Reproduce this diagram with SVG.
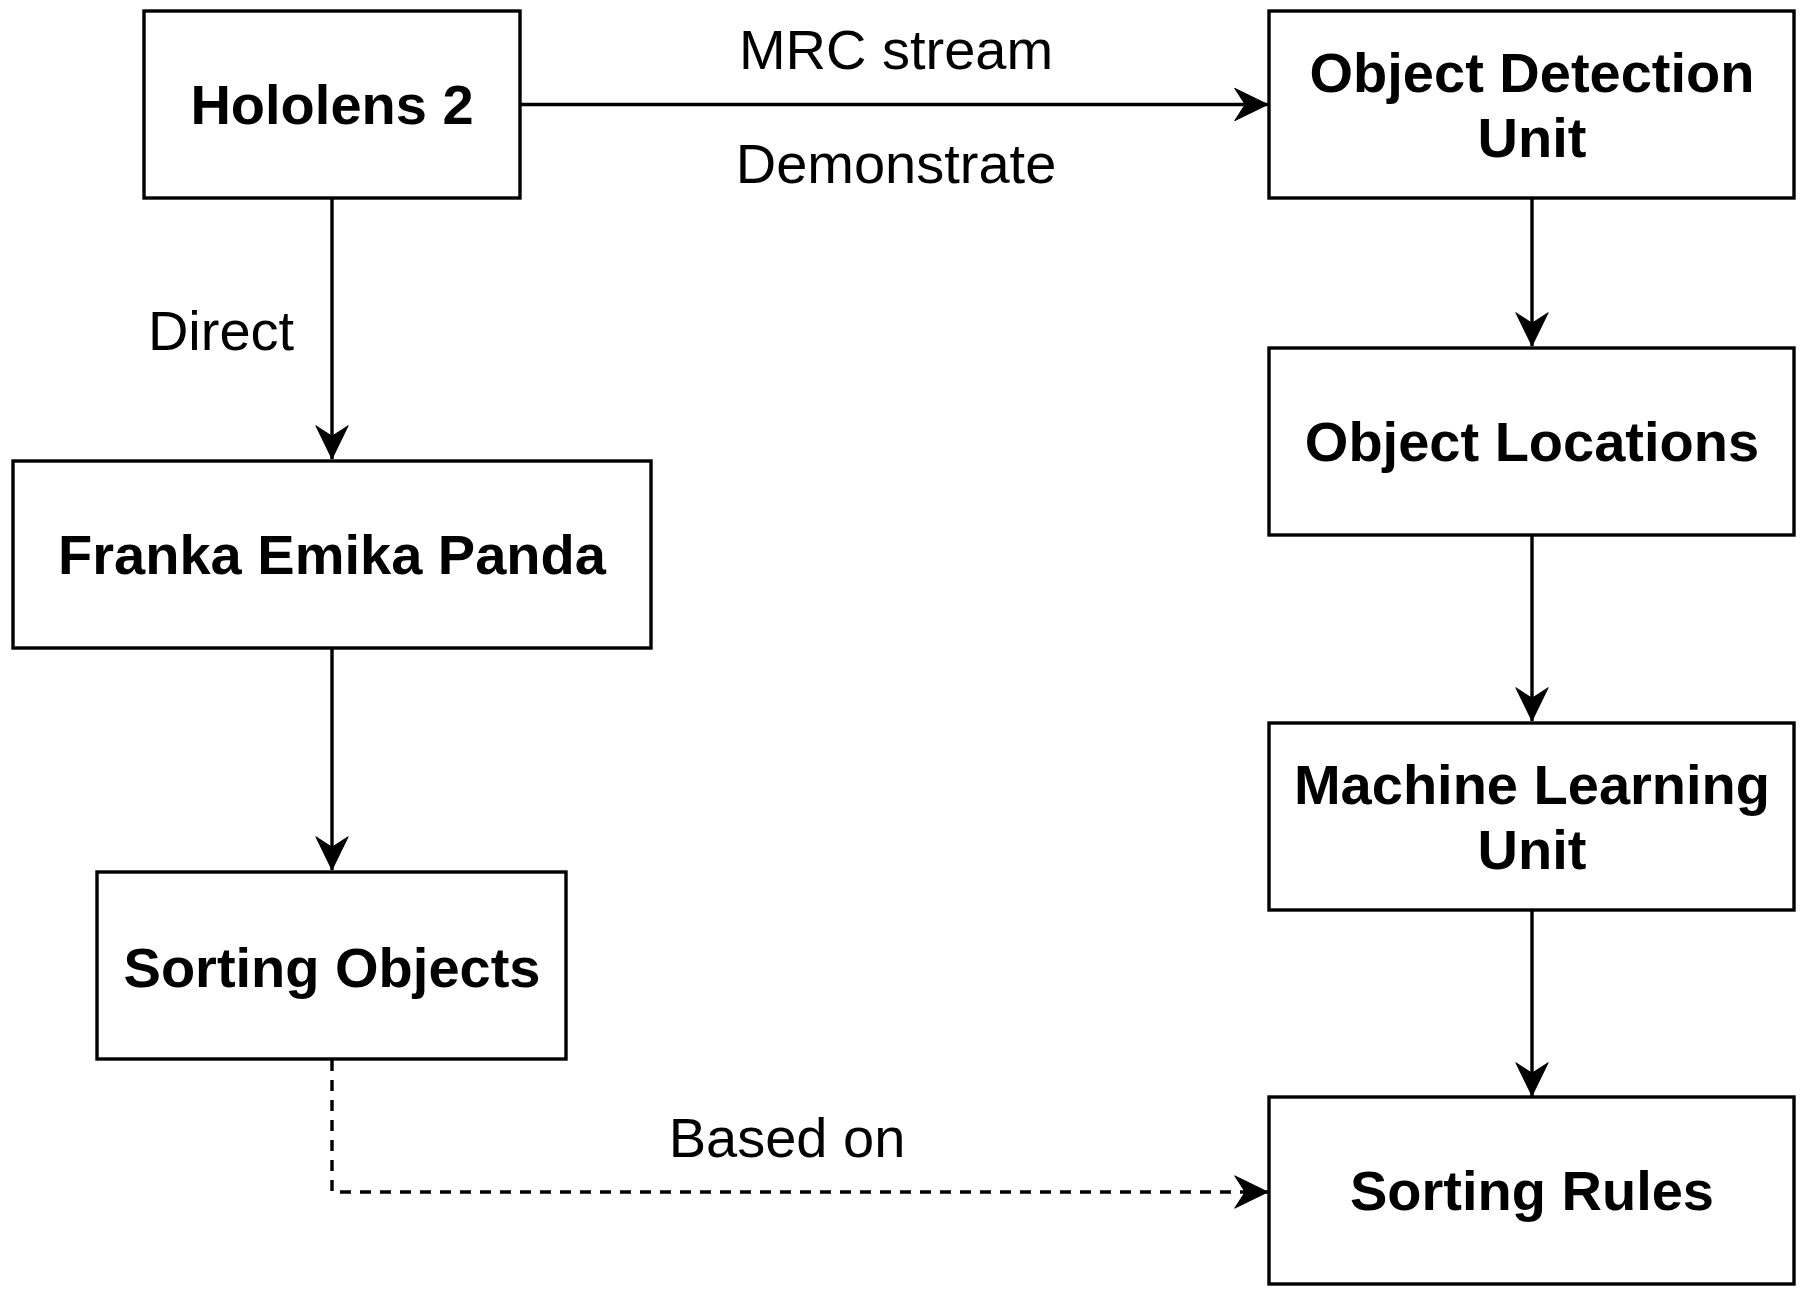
<svg xmlns="http://www.w3.org/2000/svg" width="1801" height="1295" viewBox="0 0 1801 1295">
<style>
.box{fill:#fff;stroke:#000;stroke-width:3.4}
.t{font-family:"Liberation Sans",Arial,sans-serif;font-size:56px;font-weight:bold;text-anchor:middle;fill:#000}
.l{font-family:"Liberation Sans",Arial,sans-serif;font-size:56px;text-anchor:middle;fill:#000}
.e{fill:none;stroke:#000;stroke-width:3.4}
</style>
<defs>
<marker id="a" markerUnits="userSpaceOnUse" markerWidth="40" markerHeight="40" viewBox="-40 -20 42 40" refX="0" refY="0" orient="auto">
<path d="M0,0 L-35,-17 L-24,0 L-35,17 Z" fill="#000" stroke="#000" stroke-width="1"/>
</marker>
</defs>
<rect width="1801" height="1295" fill="#fff"/>
<g id="connectors">
<path class="e" d="M520,104.5 L1268,104.5" marker-end="url(#a)"/>
<path class="e" d="M332,198 L332,459" marker-end="url(#a)"/>
<path class="e" d="M332,648 L332,870" marker-end="url(#a)"/>
<path class="e" d="M1532,198 L1532,346" marker-end="url(#a)"/>
<path class="e" d="M1532,536 L1532,721" marker-end="url(#a)"/>
<path class="e" d="M1532,910 L1532,1096" marker-end="url(#a)"/>
<path class="e" d="M332,1060 L332,1192 L1268,1192" stroke-dasharray="11 9" marker-end="url(#a)"/>
<text class="l" x="896" y="69">MRC stream</text>
<text class="l" x="896" y="183">Demonstrate</text>
<text class="l" x="221" y="350">Direct</text>
<text class="l" x="787" y="1157">Based on</text>
</g>
<g id="hololens">
<rect class="box" x="144" y="11" width="376" height="187"/>
<text class="t" x="332" y="124">Hololens 2</text>
</g>
<g id="odu">
<rect class="box" x="1269" y="11" width="525" height="187"/>
<text class="t" x="1532" y="92">Object Detection</text>
<text class="t" x="1532" y="157">Unit</text>
</g>
<g id="locations">
<rect class="box" x="1269" y="348" width="525" height="187"/>
<text class="t" x="1532" y="461">Object Locations</text>
</g>
<g id="ml">
<rect class="box" x="1269" y="723" width="525" height="187"/>
<text class="t" x="1532" y="804">Machine Learning</text>
<text class="t" x="1532" y="869">Unit</text>
</g>
<g id="rules">
<rect class="box" x="1269" y="1097" width="525" height="187"/>
<text class="t" x="1532" y="1210">Sorting Rules</text>
</g>
<g id="franka">
<rect class="box" x="13" y="461" width="638" height="187"/>
<text class="t" x="332" y="574">Franka Emika Panda</text>
</g>
<g id="sorting">
<rect class="box" x="97" y="872" width="469" height="187"/>
<text class="t" x="332" y="987">Sorting Objects</text>
</g>
</svg>
